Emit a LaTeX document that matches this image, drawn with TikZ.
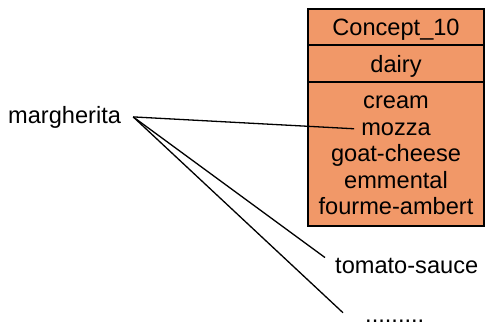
\documentclass[tikz,border=0pt]{standalone}
\usepackage{fontspec}
\setmainfont{Liberation Sans}
\usetikzlibrary{positioning}

\definecolor{conceptfill}{RGB}{241,152,104}

\tikzset{
    word/.style={inner sep=0pt, font=\fontsize{23.6}{28}\selectfont},
    cell/.style={draw, line width=2pt, fill=conceptfill, outer sep=0pt,
        minimum width=176pt, inner sep=0pt, text height=17pt, text depth=0pt,
        font=\fontsize{23.6}{28}\selectfont},
    link/.style={line width=1.3pt},
}

\begin{document}
\begin{tikzpicture}[x=1pt, y=-1pt] % concept box and the pizza's ingredients
    \useasboundingbox (0,0) rectangle (487,325);

    % the concept: name, intent, extent
    \node[cell, minimum height=36pt] (concept) at (396,27) {Concept\_10};
    \node[cell, minimum height=37pt, below=0pt of concept] (intent) {dairy};
    \node[cell, minimum height=144pt, below=0pt of intent] (extent) {};

    \node[word, anchor=base] (cream) at (396,108.5) {cream};
    \node[word, anchor=base] (mozza) at (396,135) {mozza};
    \node[word, anchor=base] (goat) at (396,161.5) {goat-cheese};
    \node[word, anchor=base] (emmental) at (396,188) {emmental};
    \node[word, anchor=base] (fourme) at (396,214.5) {fourme-ambert};

    % the object and its other attributes
    \node[word, anchor=base west] (margherita) at (8,123) {margherita};
    \node[word, anchor=base west] (tomato) at (335,273) {tomato-sauce};
    \node[word, anchor=base west] (dots) at (365,322) {.........};

    \draw[link] ([xshift=12pt]margherita.east) -- ([xshift=-7pt]mozza.west);
    \draw[link] ([xshift=12pt]margherita.east) -- ([xshift=-10pt]tomato.north west);
    \draw[link] ([xshift=12pt]margherita.east) -- ([xshift=-22pt,yshift=8pt]dots.west);
\end{tikzpicture}
\end{document}
